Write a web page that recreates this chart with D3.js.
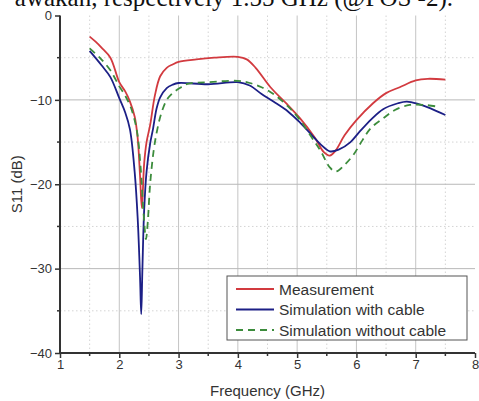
<!DOCTYPE html>
<html>
<head>
<meta charset="utf-8">
<script src="https://cdn.jsdelivr.net/npm/d3@7"></script>
<style>
  body { margin: 0; background: #fff; }
  svg { display: block; }
  text { font-family: "Liberation Sans", Arial, sans-serif; fill: #333; }
</style>
</head>
<body>
<div id="chart"></div>
<script>
// --- data ---
const measFreq = [1.5, 1.6, 1.7, 1.85, 2.0, 2.1, 2.18, 2.26, 2.31, 2.35, 2.38, 2.42, 2.46, 2.52, 2.6, 2.69, 2.8, 2.9, 3.0, 3.3, 3.6, 4.0, 4.15, 4.3, 4.55, 4.8, 5.05, 5.3, 5.45, 5.55, 5.65, 5.8, 6.0, 6.28, 6.5, 6.73, 7.0, 7.2, 7.5];
const measS11 = [-2.5, -3.1, -3.8, -5.0, -7.9, -9.0, -10.2, -12.0, -14.5, -19.0, -22.8, -17.5, -15.0, -13.0, -9.5, -7.2, -6.2, -5.8, -5.5, -5.2, -5.0, -4.9, -5.2, -6.2, -8.5, -10.3, -12.2, -14.5, -16.2, -16.6, -16.0, -14.2, -12.4, -10.4, -9.2, -8.5, -7.7, -7.5, -7.6];

const cableFreq = [1.5, 1.7, 1.85, 2.0, 2.1, 2.18, 2.26, 2.31, 2.35, 2.37, 2.39, 2.42, 2.46, 2.52, 2.57, 2.63, 2.69, 2.8, 2.9, 3.0, 3.5, 4.0, 4.2, 4.4, 4.6, 4.85, 5.05, 5.25, 5.4, 5.55, 5.7, 5.9, 6.05, 6.25, 6.45, 6.7, 6.85, 7.05, 7.25, 7.5];
const cableS11 = [-4.2, -5.9, -7.3, -9.8, -11.5, -13.5, -18.6, -24.0, -31.0, -35.4, -30.0, -23.0, -18.5, -15.2, -13.4, -11.0, -9.7, -8.6, -8.2, -8.0, -8.15, -7.9, -8.3, -9.3, -10.2, -11.4, -12.7, -14.2, -15.3, -16.1, -15.9, -15.0, -13.8, -12.3, -11.1, -10.4, -10.2, -10.5, -11.0, -11.8];

const noCableFreq = [1.5, 1.67, 1.85, 2.0, 2.1, 2.21, 2.3, 2.36, 2.41, 2.45, 2.48, 2.52, 2.58, 2.63, 2.7, 2.8, 2.9, 3.02, 3.15, 3.5, 4.0, 4.2, 4.4, 4.6, 4.85, 5.05, 5.25, 5.4, 5.55, 5.65, 5.8, 5.95, 6.1, 6.25, 6.45, 6.65, 6.9, 7.15, 7.37];
const noCableS11 = [-3.9, -5.0, -6.5, -8.4, -9.5, -11.2, -13.8, -18.0, -23.5, -26.5, -24.5, -20.0, -16.0, -13.9, -11.8, -10.0, -9.2, -8.6, -8.1, -7.9, -7.75, -8.0, -8.5, -9.3, -10.8, -12.4, -14.5, -16.1, -18.0, -18.5, -17.7, -16.5, -14.8, -13.3, -12.2, -11.2, -10.6, -10.6, -10.8];

const xTicks = [1, 2, 3, 4, 5, 6, 7, 8];
const yTicks = [0, -10, -20, -30, -40];
const seriesNames = ["Measurement", "Simulation with cable", "Simulation without cable"];

// --- layout ---
const W = 479, H = 401;
const pLeft = 60, pRight = 475, pTop = 15.5, pBottom = 353;

const svg = d3.select("#chart").append("svg")
  .attr("width", W).attr("height", H);

// partial line of document text cut at the top
svg.append("text")
  .attr("x", 453).attr("y", 5.5)
  .attr("text-anchor", "end")
  .style("font-family", "'Liberation Serif', 'DejaVu Serif', serif")
  .style("font-size", "25px")
  .style("fill", "#111")
  .text("awakan, respectively 1.55 GHz (@POS -2).");

const x = d3.scaleLinear().domain([1, 8]).range([pLeft, pRight]);
const y = d3.scaleLinear().domain([-40, 0]).range([pBottom, pTop]);

// minor grid (dotted)
const xMinor = d3.range(1.5, 8, 1);
const yMinor = [-5, -15, -25, -35];
svg.append("g").selectAll("line").data(xMinor).enter().append("line")
  .attr("x1", d => x(d)).attr("x2", d => x(d))
  .attr("y1", pTop).attr("y2", pBottom)
  .attr("stroke", "#d4d4d4").attr("stroke-dasharray", "1.5,2.5");
svg.append("g").selectAll("line").data(yMinor).enter().append("line")
  .attr("x1", pLeft).attr("x2", pRight)
  .attr("y1", d => y(d)).attr("y2", d => y(d))
  .attr("stroke", "#d4d4d4").attr("stroke-dasharray", "1.5,2.5");

// major grid (solid)
svg.append("g").selectAll("line").data(xTicks.slice(1, -1)).enter().append("line")
  .attr("x1", d => x(d)).attr("x2", d => x(d))
  .attr("y1", pTop).attr("y2", pBottom)
  .attr("stroke", "#c4c4c4").attr("stroke-width", 1);
svg.append("g").selectAll("line").data(yTicks.slice(1, -1)).enter().append("line")
  .attr("x1", pLeft).attr("x2", pRight)
  .attr("y1", d => y(d)).attr("y2", d => y(d))
  .attr("stroke", "#b8b8b8").attr("stroke-width", 1);

// curves
const line = d3.line()
  .x(d => x(d[0]))
  .y(d => y(d[1]))
  .curve(d3.curveCatmullRom);

const series = [
  { f: measFreq, v: measS11, color: "#d23a3f", dash: null },
  { f: cableFreq, v: cableS11, color: "#1c1f86", dash: null },
  { f: noCableFreq, v: noCableS11, color: "#3c8c3c", dash: "7,5" }
];

series.forEach(s => {
  svg.append("path")
    .datum(s.f.map((f, i) => [f, s.v[i]]))
    .attr("d", line)
    .attr("fill", "none")
    .attr("stroke", s.color)
    .attr("stroke-width", 1.8)
    .attr("stroke-dasharray", s.dash);
});

// axes
const xAxis = svg.append("g")
  .attr("transform", `translate(0,${pBottom})`)
  .call(d3.axisBottom(x).tickValues(xTicks).tickSize(5).tickPadding(2).tickFormat(d3.format("d")));
xAxis.append("g").selectAll("line").data(xMinor).enter().append("line")
  .attr("x1", d => x(d)).attr("x2", d => x(d))
  .attr("y1", 0).attr("y2", 3)
  .attr("stroke", "#333").attr("stroke-width", 1.5);

const yAxis = svg.append("g")
  .attr("transform", `translate(${pLeft},0)`)
  .call(d3.axisLeft(y).tickValues(yTicks).tickSize(5).tickPadding(3).tickFormat(d3.format("d")));
yAxis.append("g").selectAll("line").data(yMinor).enter().append("line")
  .attr("x1", 0).attr("x2", -3)
  .attr("y1", d => y(d)).attr("y2", d => y(d))
  .attr("stroke", "#333").attr("stroke-width", 1.5);

[xAxis, yAxis].forEach(a => {
  a.select(".domain").attr("stroke", "#333").attr("stroke-width", 2);
  a.selectAll(".tick line").attr("stroke", "#333").attr("stroke-width", 1.5);
  a.selectAll("text").style("font-size", "13px").attr("fill", "#333")
    .style("font-family", "'Liberation Sans', Arial, sans-serif");
});
xAxis.select(".domain").attr("d", `M${pLeft},0H${pRight}`);
yAxis.select(".domain").attr("d", `M0,${pTop}V${pBottom}`);

// axis titles
svg.append("text")
  .attr("x", x(4.5)).attr("y", 396)
  .attr("text-anchor", "middle")
  .style("font-size", "15px")
  .text("Frequency (GHz)");

svg.append("text")
  .attr("transform", `translate(22,${y(-20)}) rotate(-90)`)
  .attr("text-anchor", "middle")
  .style("font-size", "15px")
  .text("S11 (dB)");

// legend
const legend = svg.append("g").attr("transform", "translate(227,276)");
legend.append("rect")
  .attr("width", 240).attr("height", 64)
  .attr("fill", "#fff").attr("stroke", "#555").attr("stroke-width", 1);

seriesNames.forEach((name, i) => {
  const row = legend.append("g").attr("transform", `translate(0,${13 + i * 20.5})`);
  row.append("line")
    .attr("x1", 9).attr("x2", 47)
    .attr("stroke", series[i].color)
    .attr("stroke-width", 1.8)
    .attr("stroke-dasharray", series[i].dash);
  row.append("text")
    .attr("x", 52).attr("y", 5.5)
    .style("font-size", "15.5px")
    .text(name);
});
</script>
</body>
</html>
